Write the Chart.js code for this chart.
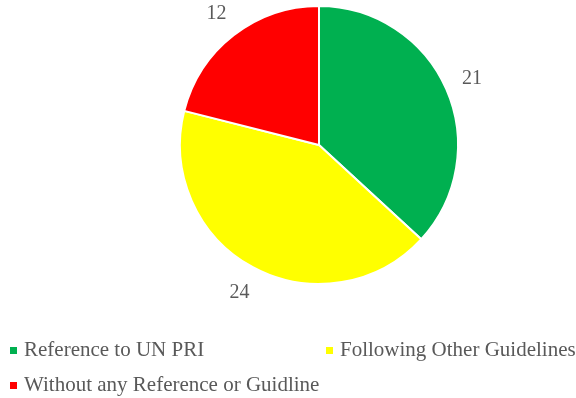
<!DOCTYPE html>
<html>
<head>
<meta charset="utf-8">
<script src="https://cdn.jsdelivr.net/npm/chart.js@4"></script>
<style>
  html, body { margin: 0; padding: 0; background: #fff; }
  canvas { display: block; }
</style>
</head>
<body>
<canvas id="pie" width="576" height="398"></canvas>
<script>
const categories = ["Reference to UN PRI", "Following Other Guidelines", "Without any Reference or Guidline"];
const counts = [21, 24, 12];
const colors = ["#00B050", "#FFFF00", "#FF0000"];

const FONT = "'Liberation Serif', 'Times New Roman', serif";
const TEXT = "#595959";

// value labels just outside each slice
const outsideLabels = {
  id: "outsideLabels",
  afterDatasetsDraw(chart) {
    const ctx = chart.ctx;
    const meta = chart.getDatasetMeta(0);
    ctx.save();
    ctx.font = "20px " + FONT;
    ctx.fillStyle = TEXT;
    ctx.textAlign = "center";
    ctx.textBaseline = "middle";
    meta.data.forEach((arc, i) => {
      const p = arc.getProps(["x", "y", "startAngle", "endAngle", "outerRadius"], true);
      const mid = (p.startAngle + p.endAngle) / 2;
      const r = p.outerRadius + 28;
      ctx.fillText(String(counts[i]), p.x + Math.cos(mid) * r, p.y + Math.sin(mid) * r + 1);
    });
    ctx.restore();
  }
};

// legend laid out in two rows under the pie
const bottomLegend = {
  id: "bottomLegend",
  afterDraw(chart) {
    const ctx = chart.ctx;
    const spots = [[10, 356], [326, 356], [10, 391]];
    ctx.save();
    ctx.font = "21px " + FONT;
    ctx.textBaseline = "alphabetic";
    categories.forEach((name, i) => {
      const [x, y] = spots[i];
      ctx.fillStyle = colors[i];
      ctx.fillRect(x, y - 9, 7, 7);
      ctx.fillStyle = TEXT;
      ctx.fillText(name, x + 14, y);
    });
    ctx.restore();
  }
};

new Chart(document.getElementById("pie"), {
  type: "pie",
  data: {
    labels: categories,
    datasets: [{
      data: counts,
      backgroundColor: colors,
      borderColor: "#ffffff",
      borderWidth: 2
    }]
  },
  options: {
    responsive: false,
    animation: false,
    layout: { padding: { left: 179, right: 117, top: 5, bottom: 113 } },
    plugins: {
      legend: { display: false },
      tooltip: { enabled: false }
    }
  },
  plugins: [outsideLabels, bottomLegend]
});
</script>
</body>
</html>
